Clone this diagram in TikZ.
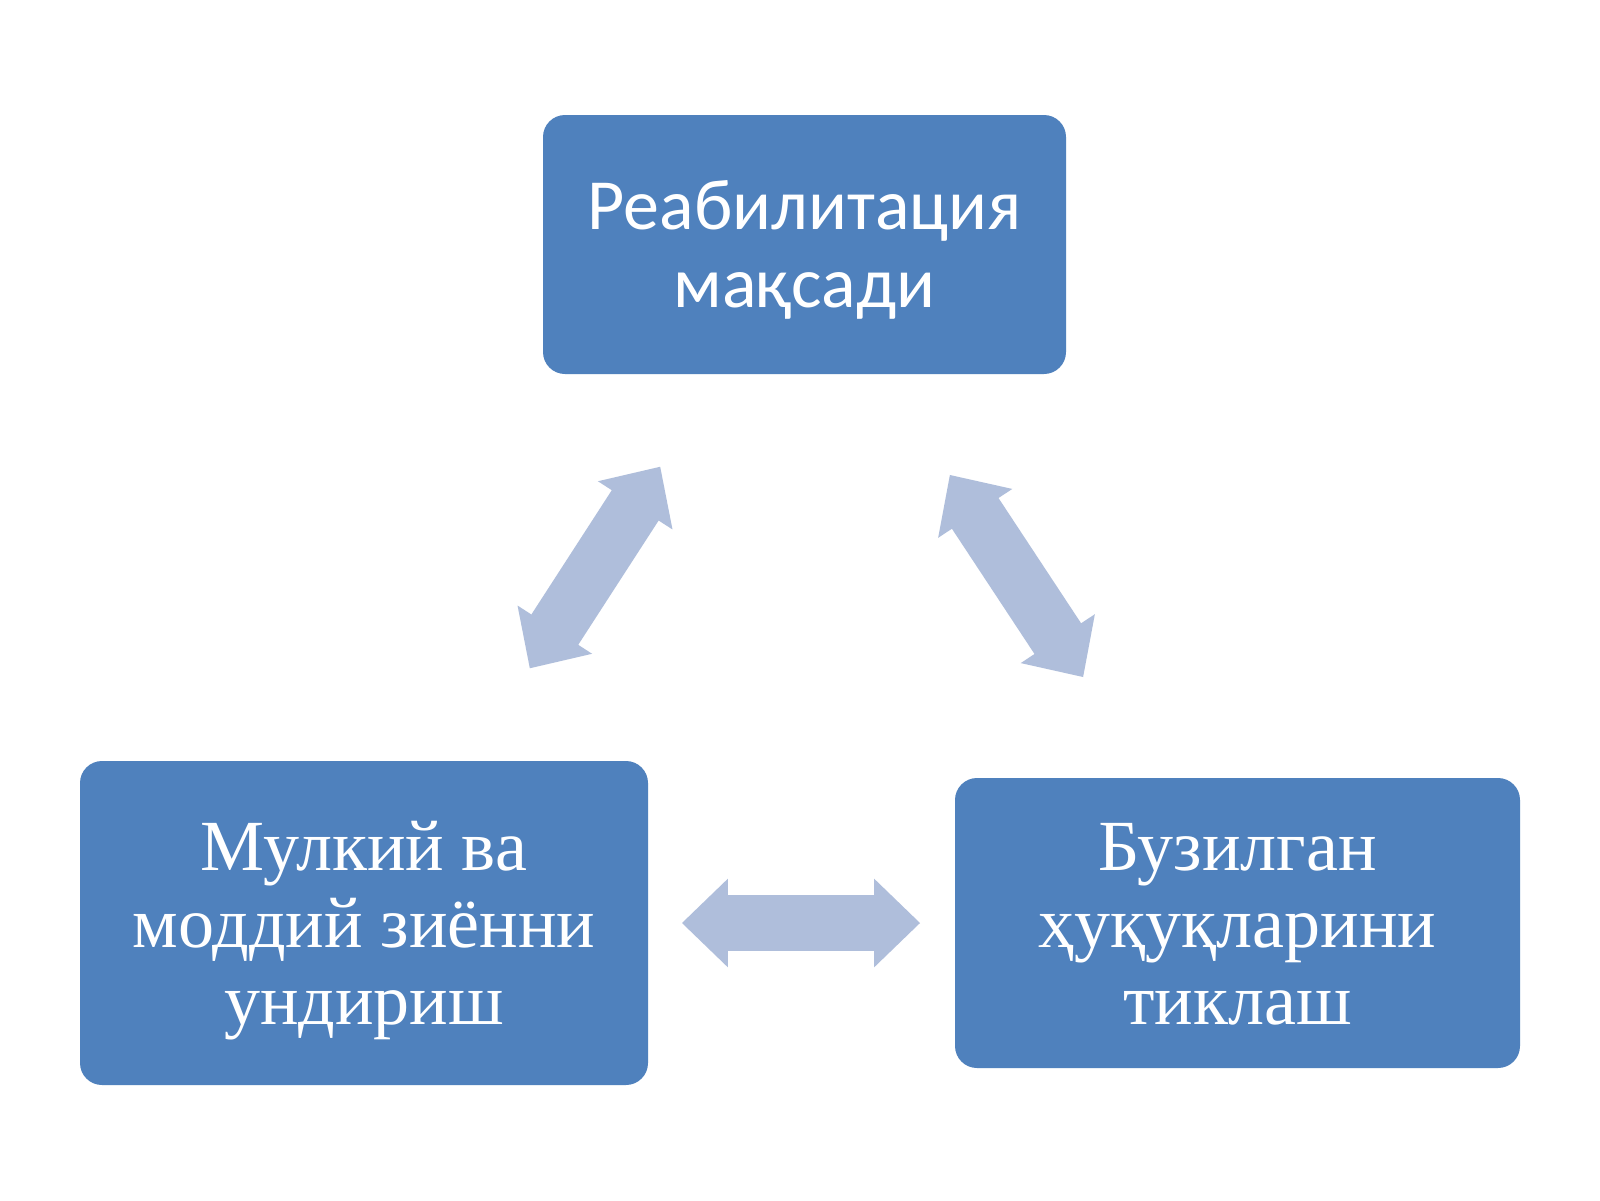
\documentclass[tikz,border=0pt]{standalone}
\usepackage{fontspec}
\setmainfont{Liberation Serif}
\newfontfamily\calfont{Carlito}
\usetikzlibrary{shapes.arrows}
\definecolor{boxblue}{HTML}{4F81BD}
\definecolor{arrowblue}{HTML}{AFBEDB}
\tikzset{
  box/.style={fill=boxblue, draw=none, rounded corners=11pt, inner sep=0pt},
  boxtext/.style={text=white, align=center, inner sep=0pt},
  dblarrow/.style={double arrow, fill=arrowblue, draw=none, inner xsep=0pt, inner ysep=13.75pt,
    minimum width=44pt, double arrow head extend=8.25pt, double arrow tip angle=88},
}
\begin{document}
\begin{tikzpicture}[x=0.5pt, y=-0.5pt]
\useasboundingbox (0,0) rectangle (1600,1200);
\fill[white] (0,0) rectangle (1600,1200);
\node[box, minimum width=261.5pt, minimum height=129.5pt] (top) at (804.5,244.5) {};
\node[boxtext, font=\calfont\fontsize{36}{39}\selectfont] (toptext) at (804.5,250) {Реабилитация\\мақсади};
\node[box, minimum width=284pt, minimum height=162pt] (left) at (364,923) {};
\node[boxtext, font=\fontsize{36}{38.5}\selectfont] (lefttext) at (364,931) {Мулкий ва\\моддий зиённи\\ундириш};
\node[box, minimum width=282.5pt, minimum height=145pt] (right) at (1237.5,923) {};
\node[boxtext, font=\fontsize{36}{38.5}\selectfont] (righttext) at (1237.5,924) {Бузилган\\ҳуқуқларини\\тиклаш};
\node[dblarrow, minimum height=119pt] (ah) at (801,923) {};
\node[dblarrow, minimum height=120pt, rotate=57.1] (al) at (595,567.5) {};
\node[dblarrow, minimum height=121pt, rotate=-56.6] (ar) at (1016.5,576) {};
\end{tikzpicture}
\end{document}
